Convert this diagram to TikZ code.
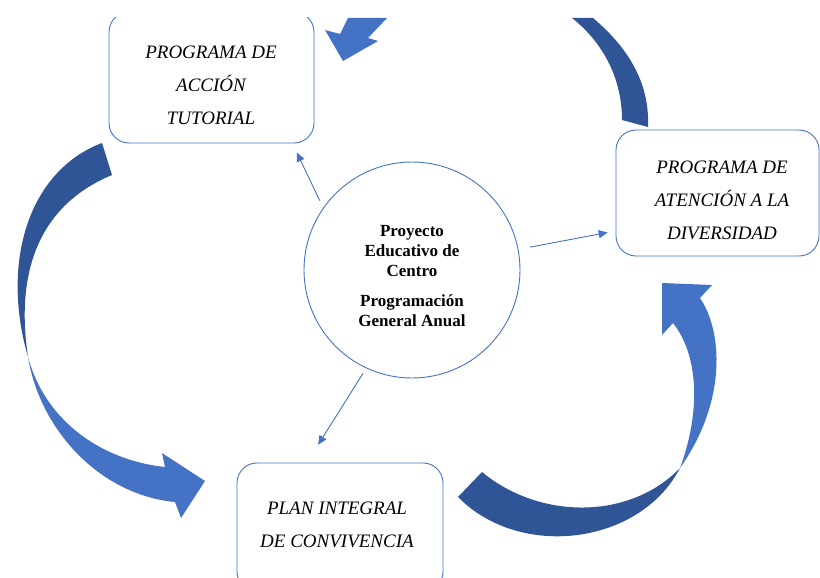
\documentclass[tikz,border=0pt]{standalone}
\usepackage{fontspec}
\setmainfont{Liberation Serif}
\usetikzlibrary{arrows.meta}
\definecolor{darkblue}{HTML}{2F5597}
\definecolor{lightblue}{HTML}{4472C4}

\begin{document}
\begin{tikzpicture}[x=1pt,y=-1pt,
    box/.style={draw=lightblue,line width=0.9pt,rounded corners=20pt,fill=white,inner sep=0pt},
    boxtext/.style={font=\fontsize{19}{33}\selectfont\itshape,align=center},
    linkarrow/.style={draw=lightblue,line width=0.9pt,-{Triangle[length=9pt,width=8pt]}}]
  \useasboundingbox (0,0) rectangle (820,578);
  \clip (0,18) rectangle (820,578);
  % big curved arrows: dark tail part, light head part
  \fill[darkblue] (102,143) .. controls (30,170) and (0,260) .. (28,357)
    .. controls (15,270) and (40,205) .. (112,175) -- cycle;
  \fill[lightblue] (28,357) .. controls (40,430) and (100,495) .. (175,502)
    -- (181,518) -- (205,481) -- (162,453) -- (165,467)
    .. controls (100,460) and (45,420) .. (28,357) -- cycle;
  \fill[darkblue] (648,127) .. controls (650,80) and (625,45) .. (593,18)
    -- (572,18) .. controls (600,40) and (622,75) .. (622,120) -- cycle;
  \fill[lightblue] (348,18) -- (340,34) -- (325,30) -- (343,61) -- (378,41) -- (368,38) -- (387,18) -- cycle;
  \fill[darkblue] (482,472) .. controls (540,520) and (630,520) .. (680,468)
    .. controls (640,545) and (520,560) .. (458,497) -- cycle;
  \fill[lightblue] (680,468) .. controls (728,400) and (722,330) .. (700,298)
    -- (712,285) -- (662,283) -- (662,335) -- (673,323)
    .. controls (702,360) and (698,420) .. (680,468) -- cycle;
  % boxes
  \node[box,minimum width=205pt,minimum height=131pt] (pat) at (211.5,77.5) {};
  \node[boxtext] (pat-txt) at (211,85.5) {PROGRAMA DE\\ACCIÓN\\TUTORIAL};
  \node[box,minimum width=203pt,minimum height=126pt] (pad) at (717.5,193) {};
  \node[boxtext] (pad-txt) at (722,200.5) {PROGRAMA DE\\ATENCIÓN A LA\\DIVERSIDAD};
  \node[box,minimum width=206pt,minimum height=129pt] (pic) at (340,527.5) {};
  \node[boxtext] (pic-txt) at (337,525) {PLAN INTEGRAL\\DE CONVIVENCIA};
  % centre
  \node[draw=lightblue,line width=0.9pt,circle,minimum size=216pt,inner sep=0pt] (ctr) at (412,270) {};
  \node[font=\fontsize{17}{20}\selectfont\bfseries,align=center] (ctr-txt) at (412,276.5)
    {Proyecto\\Educativo de\\Centro\\[10pt]Programación\\General Anual};
  \draw[linkarrow,shorten <=8pt,shorten >=10pt] (ctr.145) -- ([xshift=81pt]pat.south);
  \draw[linkarrow,shorten <=12pt,shorten >=8pt] (ctr.11.6) -- ([yshift=-38pt]pad.west);
  \draw[linkarrow,shorten <=6pt,shorten >=21pt] (ctr.245) -- ([xshift=-33pt]pic.north);
\end{tikzpicture}
\end{document}
